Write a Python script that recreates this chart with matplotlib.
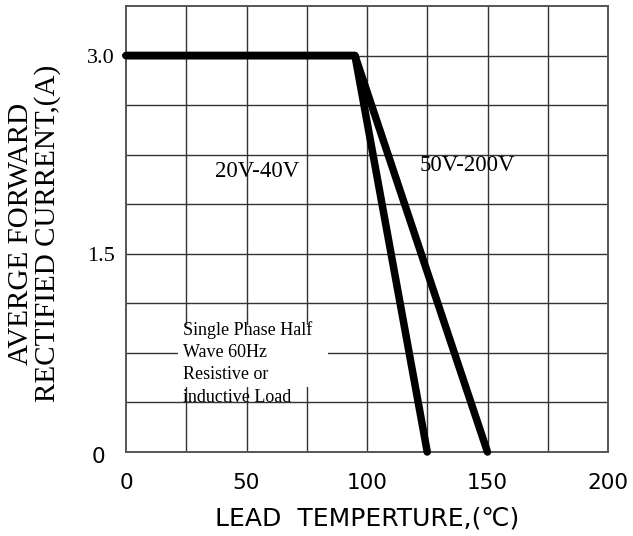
import matplotlib
matplotlib.use("Agg")
import matplotlib.pyplot as plt
from matplotlib.patches import Rectangle
from matplotlib.transforms import ScaledTranslation

# derating curves: lead temperature (C) vs average forward current (A)
temp_low = [0, 95, 125]
curr_low = [3.0, 3.0, 0.0]
temp_high = [0, 95, 150]
curr_high = [3.0, 3.0, 0.0]

x_ticks = [0, 50, 100, 150, 200]
y_ticks = [0, 1.5, 3.0]
y_tick_labels = ['0', '1.5', '3.0']

serif = ['Liberation Serif', 'DejaVu Serif']
thin = ['DejaVu Sans']

fig = plt.figure(figsize=(6.33, 5.36), dpi=100)
ax = fig.add_axes([126 / 633, 84 / 536, 482 / 633, 446 / 536])

ax.set_xlim(0, 200)
ax.set_ylim(0, 3.375)

# grid every 25 C / 0.375 A
for gx in range(25, 200, 25):
    ax.axvline(gx, color='#333333', linewidth=1.0, zorder=1)
for i in range(1, 9):
    ax.axhline(i * 0.375, color='#333333', linewidth=1.0, zorder=1)
for sp in ax.spines.values():
    sp.set_color('#555555')
    sp.set_linewidth(1.4)

# white patch behind the note
ax.add_patch(Rectangle((21.6, 0.49), 62.2, 0.47, facecolor='white',
                       edgecolor='none', zorder=2))

ax.plot(temp_high, curr_high, color='black', linewidth=5.4, clip_on=False,
        solid_capstyle='round', solid_joinstyle='round', zorder=3)
ax.plot(temp_low, curr_low, color='black', linewidth=5.4, clip_on=False,
        solid_capstyle='round', solid_joinstyle='round', zorder=3)

ax.set_xticks(x_ticks)
ax.set_xticklabels([str(t) for t in x_ticks], family=thin, fontsize=15.5)
ax.set_yticks(y_ticks)
ax.set_yticklabels(y_tick_labels, family=serif, fontsize=16)
ax.tick_params(length=0, pad=8)
ax.tick_params(axis='x', pad=15)

# the zero on the y axis is in the sans font and sits further left
zero = ax.get_yticklabels()[0]
zero.set_fontfamily(thin)
zero.set_fontsize(15.5)
zero.set_transform(zero.get_transform() + ScaledTranslation(-0.1, -0.03, fig.dpi_scale_trans))

ax.set_xlabel('LEAD  TEMPERTURE,(℃)', family=thin, fontsize=18, labelpad=10)
ax.set_ylabel('AVERGE FORWARD\nRECTIFIED CURRENT,(A)', family=serif,
              fontsize=21, linespacing=1.0)
ax.yaxis.set_label_coords(-0.135, 0.49)

ax.text(37, 2.126, '20V-40V', family=serif, fontsize=16.5, va='center', zorder=4)
ax.text(122, 2.17, '50V-200V', family=serif, fontsize=16.5, va='center', zorder=4)
ax.text(23.5, 0.99, 'Single Phase Half\nWave 60Hz\nResistive or\ninductive Load',
        family=serif, fontsize=13, va='top', ha='left', linespacing=1.4,
        zorder=4)

fig.savefig('out.png', dpi=100)
plt.close(fig)
